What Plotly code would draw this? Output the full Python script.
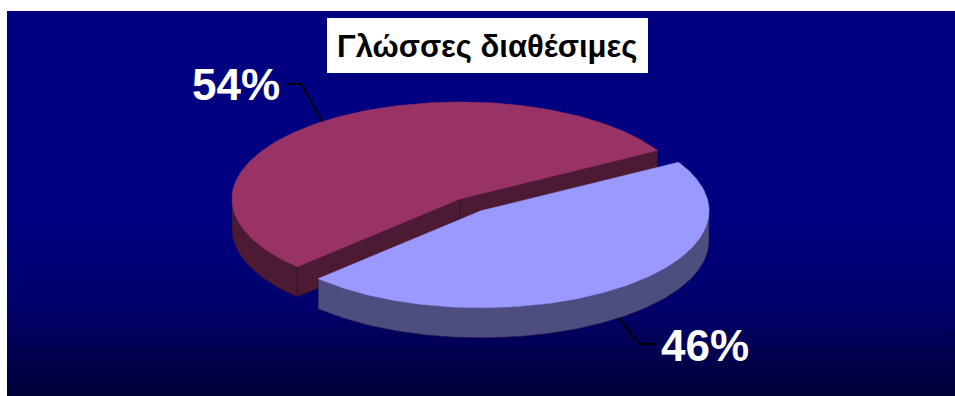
import math
import plotly.graph_objects as go

# ---- data ----
categories = ["Α", "Β"]
values = [54, 46]
slice_colors = ["#993366", "#9999FF"]
side_colors = ["#4D1A33", "#4D4D80"]
explode = [0.0, 0.153]
title_text = "Γλώσσες διαθέσιμες"

# ---- geometry / style ----
W, H = 955, 396
CX, CY = 460, 199
RX, RY = 228, 97
DEPTH = 30
START = 30.0
FONT = "Liberation Sans, Arial, sans-serif"

fig = go.Figure()

# background panel with gradient
fig.add_trace(go.Scatter(
    x=[7, 955, 955, 7, 7], y=[11, 11, 396, 396, 11], mode="lines",
    line=dict(width=0), fill="toself",
    fillgradient=dict(type="vertical", start=11, stop=396,
                      colorscale=[[0, "#000080"], [0.55, "#000080"], [0.78, "#00006a"], [1, "#000036"]]),
    hoverinfo="skip", showlegend=False))

total = sum(values)
slices = []
a = START
for i, v in enumerate(values):
    span = 360.0 * v / total
    a0, a1 = a, a + span
    mid = (a0 + a1) / 2
    e = explode[i]
    cx = CX + e * RX * math.cos(math.radians(mid))
    cy = CY - e * RY * math.sin(math.radians(mid))
    slices.append(dict(i=i, a0=a0, a1=a1, mid=mid, cx=cx, cy=cy))
    a = a1


def pt(cx, cy, th, dz=0.0):
    r = math.radians(th)
    return cx + RX * math.cos(r), cy - RY * math.sin(r) + dz


def poly(xs, ys, color, lw=0.6, lc=None):
    fig.add_trace(go.Scatter(
        x=xs + [xs[0]], y=ys + [ys[0]], mode="lines",
        line=dict(width=lw, color=lc or color), fill="toself", fillcolor=color,
        hoverinfo="skip", showlegend=False))


for s in sorted(slices, key=lambda d: d["cy"]):
    i, a0, a1, cx, cy = s["i"], s["a0"], s["a1"], s["cx"], s["cy"]
    side = side_colors[i]
    # radial walls
    for ang, nrm in ((a0, a0 - 90), (a1, a1 + 90)):
        if math.sin(math.radians(nrm)) < 0:
            ex, ey = pt(cx, cy, ang)
            poly([cx, ex, ex, cx], [cy, ey, ey + DEPTH, cy + DEPTH], side, 0.6, "#2a1040")
    # outer rim (front part)
    n = 200
    angs = [a0 + (a1 - a0) * k / n for k in range(n + 1)]
    vis = [t for t in angs if math.sin(math.radians(t)) <= 0.0001]
    if vis:
        top = [pt(cx, cy, t) for t in vis]
        bot = [pt(cx, cy, t, DEPTH) for t in reversed(vis)]
        poly([p[0] for p in top + bot], [p[1] for p in top + bot], side, 0.6, "#2a1040")
    # top face
    pts = [(cx, cy)] + [pt(cx, cy, t) for t in angs]
    poly([p[0] for p in pts], [p[1] for p in pts], slice_colors[i], 0.6, slice_colors[i])

# leaders and labels
annotations = []
for s in slices:
    i, mid, cx, cy = s["i"], s["mid"], s["cx"], s["cy"]
    front = math.sin(math.radians(mid)) < 0
    ax, ay = pt(cx, cy, mid, DEPTH if front else 0)
    right = math.cos(math.radians(mid)) > 0
    sx = 1 if right else -1
    ex, ey = ax + sx * 21, ay + (26 if front else -38)
    hx = ex + sx * 15
    fig.add_trace(go.Scatter(x=[ax, ex, hx], y=[ay, ey, ey], mode="lines",
                             line=dict(color="black", width=2), hoverinfo="skip", showlegend=False))
    pct = round(100 * values[i] / total)
    annotations.append(dict(
        x=hx + sx * 4, y=ey + 1, xref="x", yref="y", text=f"<b>{pct}%</b>", showarrow=False,
        xanchor="left" if right else "right", yanchor="middle",
        font=dict(family=FONT, size=44, color="white")))

# title
annotations.append(dict(
    x=486.5, y=46, xref="x", yref="y", text=f"<b>{title_text}</b>", showarrow=False,
    xanchor="center", yanchor="middle", font=dict(family=FONT, size=31, color="black")))

fig.update_layout(
    width=W, height=H, margin=dict(l=0, r=0, t=0, b=0),
    paper_bgcolor="white", plot_bgcolor="rgba(0,0,0,0)",
    xaxis=dict(range=[0, W], visible=False, fixedrange=True),
    yaxis=dict(range=[H, 0], visible=False, fixedrange=True),
    shapes=[dict(type="rect", xref="x", yref="y", x0=327, y0=18, x1=648, y1=73,
                 fillcolor="white", line=dict(width=0), layer="above")],
    annotations=annotations,
)

fig.write_html("out.html", config={"displayModeBar": False})
